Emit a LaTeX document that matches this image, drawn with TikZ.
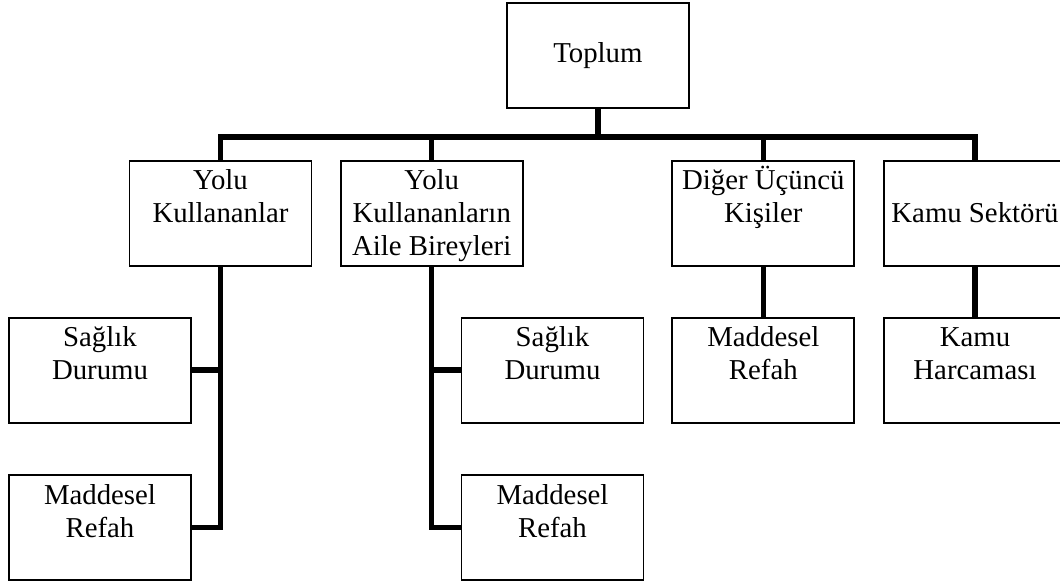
\documentclass[tikz,border=0pt]{standalone}
\usepackage{fontspec}
\setmainfont{Liberation Serif}
\newcommand\firstln{\rule{0pt}{29pt}}
\newcommand\boxtxt[1]{\parbox[c][105pt][t]{182pt}{\centering\fontsize{28.8}{33}\selectfont\firstln #1\par}}
\tikzset{
  box/.style={draw, line width=1.7pt, inner sep=0pt, minimum width=182pt, minimum height=105pt},
  conn/.style={line width=5.5pt, line join=miter}
}
\begin{document}
\begin{tikzpicture}[x=1pt,y=-1pt]
\useasboundingbox (0,0) rectangle (1060,584);
\clip (0,0) rectangle (1060,584);
\fill[white] (0,0) rectangle (1060,584);
\coordinate (bus) at (0,137);
\node[box] (top) at (597.9,55.7) {\parbox[c][105pt][c]{182pt}{\centering\fontsize{28.8}{33}\selectfont Toplum}};
\node[box] (yk) at (220.5,213.2) {\boxtxt{Yolu\\Kullananlar}};
\node[box] (yb) at (431.7,213.2) {\boxtxt{Yolu\\Kullananların\\Aile Bireyleri}};
\node[box] (du) at (763.3,213.2) {\boxtxt{Diğer Üçüncü\\Kişiler}};
\node[box] (ks) at (975,213.2) {\boxtxt{\\Kamu Sektörü}};
\node[box] (s1) at (100,370.2) {\boxtxt{Sağlık\\Durumu}};
\node[box] (m1) at (100,527.5) {\boxtxt{Maddesel\\Refah}};
\node[box] (s2) at (552.5,370.2) {\boxtxt{Sağlık\\Durumu}};
\node[box] (m2) at (552.5,527.5) {\boxtxt{Maddesel\\Refah}};
\node[box] (m3) at (763.3,370.2) {\boxtxt{Maddesel\\Refah}};
\node[box] (kh) at (975,370.2) {\boxtxt{Kamu\\Harcaması}};
% bus
\draw[conn] (yk.north) -- (yk.north |- bus) -- (ks.north |- bus) -- (ks.north);
\draw[conn] (top.south) -- (top.south |- bus);
\draw[conn] (yb.north) -- (yb.north |- bus);
\draw[conn] (du.north) -- (du.north |- bus);
% left branch
\draw[conn] (yk.south) |- (m1.east);
\draw[conn] (s1.east) -- (s1.east -| yk.south);
% middle branch
\draw[conn] (yb.south) |- (m2.west);
\draw[conn] (s2.west) -- (s2.west -| yb.south);
% right branches
\draw[conn] (du.south) -- (m3.north);
\draw[conn] (ks.south) -- (kh.north);
\end{tikzpicture}
\end{document}
